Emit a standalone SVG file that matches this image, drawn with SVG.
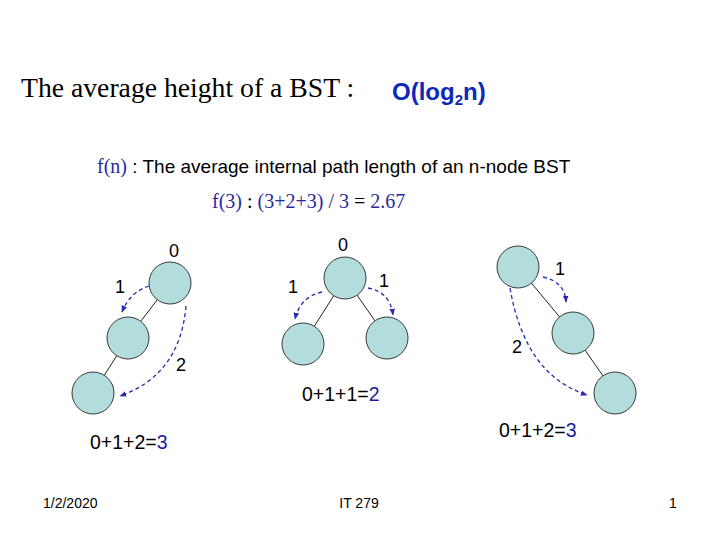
<svg xmlns="http://www.w3.org/2000/svg" width="720" height="540" viewBox="0 0 720 540">
<style>
.node{fill:#b3dcdc;stroke:#3a3a3a;stroke-width:1}
.edge{stroke:#222;stroke-width:1;fill:none}
.arc{stroke:#2a2ab0;stroke-width:1.3;stroke-dasharray:4 3;fill:none}
.lbl{font-family:"Liberation Sans",Arial,sans-serif;font-size:18px;fill:#000}
.sum{font-family:"Liberation Sans",Arial,sans-serif;font-size:19.5px;fill:#000}
.blue{fill:#1a1aa0}
.ser{font-family:"Liberation Serif","Times New Roman",serif}
.foot{font-family:"Liberation Sans",Arial,sans-serif;font-size:14px;fill:#000}
</style>
<defs>
<marker id="ah" viewBox="0 0 10 10" refX="9" refY="5" markerWidth="7" markerHeight="7" orient="auto" markerUnits="userSpaceOnUse">
<path d="M0,1 L10,5 L0,9 Z" fill="#2a2ab0"/>
</marker>
</defs>
<rect width="720" height="540" fill="#fff"/>
<text x="21" y="97" class="ser" font-size="27.7" fill="#000">The average height of a BST :</text>
<text x="392" y="100" font-family="Liberation Sans,Arial,sans-serif" font-weight="bold" font-size="24" fill="#0c2ab8">O(log<tspan font-size="15" dy="5">2</tspan><tspan dy="-5">n)</tspan></text>
<text x="97" y="173"><tspan class="ser" font-size="20" fill="#2a2a9a">f(n)</tspan><tspan font-family="Liberation Sans,Arial,sans-serif" font-size="19" fill="#000"> : The average internal path length of an n-node BST</tspan></text>
<text x="212" y="208" class="ser" font-size="20" fill="#2a2a9a">f(3) <tspan fill="#000">:</tspan> (3+2+3) / 3 <tspan fill="#000">=</tspan> 2.67</text>
<g id="connectors">
<line class="edge" x1="170" y1="283" x2="128" y2="338"/>
<line class="edge" x1="128" y1="338" x2="93" y2="393"/>
<line class="edge" x1="345" y1="278" x2="303" y2="344"/>
<line class="edge" x1="345" y1="278" x2="387" y2="338"/>
<line class="edge" x1="518" y1="267" x2="573" y2="333"/>
<line class="edge" x1="573" y1="333" x2="615" y2="393"/>
<path class="arc" d="M149,286 Q130,292 122,312" marker-end="url(#ah)"/>
<path class="arc" d="M186,306 Q180,375 120,396" marker-end="url(#ah)"/>
<path class="arc" d="M322,292 Q300,297 295,319" marker-end="url(#ah)"/>
<path class="arc" d="M368,288 Q390,292 393,315" marker-end="url(#ah)"/>
<path class="arc" d="M543,277 Q565,282 566,302" marker-end="url(#ah)"/>
<path class="arc" d="M510,288 Q525,375 587,395" marker-end="url(#ah)"/>
</g>
<g id="t1a"><circle class="node" cx="170" cy="283" r="21"/></g>
<g id="t1b"><circle class="node" cx="128" cy="338" r="21"/></g>
<g id="t1c"><circle class="node" cx="93" cy="393" r="21"/></g>
<g id="t2a"><circle class="node" cx="345" cy="278" r="21"/></g>
<g id="t2b"><circle class="node" cx="303" cy="344" r="21"/></g>
<g id="t2c"><circle class="node" cx="387" cy="338" r="21"/></g>
<g id="t3a"><circle class="node" cx="518" cy="267" r="21"/></g>
<g id="t3b"><circle class="node" cx="573" cy="333" r="21"/></g>
<g id="t3c"><circle class="node" cx="615" cy="393" r="21"/></g>
<g text-anchor="middle">
<text class="lbl" x="174" y="257">0</text>
<text class="lbl" x="120" y="293">1</text>
<text class="lbl" x="181" y="371">2</text>
<text class="lbl" x="343" y="251">0</text>
<text class="lbl" x="293" y="293">1</text>
<text class="lbl" x="384" y="287">1</text>
<text class="lbl" x="560" y="275">1</text>
<text class="lbl" x="517" y="353">2</text>
</g>
<text class="sum" x="90" y="449">0+1+2=<tspan class="blue">3</tspan></text>
<text class="sum" x="302" y="401">0+1+1=<tspan class="blue">2</tspan></text>
<text class="sum" x="499" y="437">0+1+2=<tspan class="blue">3</tspan></text>
<text class="foot" x="43" y="508">1/2/2020</text>
<text class="foot" x="359" y="508" text-anchor="middle">IT 279</text>
<text class="foot" x="669" y="508">1</text>
</svg>
